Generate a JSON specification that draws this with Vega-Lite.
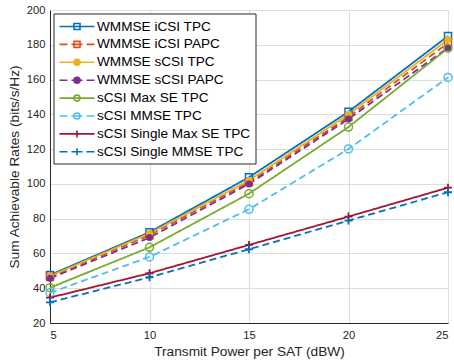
{
  "$schema": "https://vega.github.io/schema/vega-lite/v6.json",
  "width": 398,
  "height": 313,
  "autosize": "none",
  "padding": {"left": 50, "top": 10, "right": 6, "bottom": 40},
  "background": "white",
  "config": {
    "font": "Liberation Sans",
    "view": {"stroke": null},
    "axis": {
      "domainColor": "#262626",
      "domainWidth": 1,
      "gridColor": "#dedede",
      "gridWidth": 1,
      "labelColor": "#262626",
      "labelFont": "Liberation Sans",
      "labelFontSize": 11.2,
      "titleColor": "#262626",
      "titleFont": "Liberation Sans",
      "titleFontSize": 13.7,
      "titleFontWeight": "normal",
      "ticks": false
    }
  },
  "data": {
    "values": [
      {"x": 5, "y": 47.6, "s": "WMMSE iCSI TPC"},
      {"x": 10, "y": 72.2, "s": "WMMSE iCSI TPC"},
      {"x": 15, "y": 103.8, "s": "WMMSE iCSI TPC"},
      {"x": 20, "y": 141.5, "s": "WMMSE iCSI TPC"},
      {"x": 25, "y": 185.0, "s": "WMMSE iCSI TPC"},
      {"x": 5, "y": 46.5, "s": "WMMSE iCSI PAPC"},
      {"x": 10, "y": 70.5, "s": "WMMSE iCSI PAPC"},
      {"x": 15, "y": 101.0, "s": "WMMSE iCSI PAPC"},
      {"x": 20, "y": 138.5, "s": "WMMSE iCSI PAPC"},
      {"x": 25, "y": 181.0, "s": "WMMSE iCSI PAPC"},
      {"x": 5, "y": 47.0, "s": "WMMSE sCSI TPC"},
      {"x": 10, "y": 71.5, "s": "WMMSE sCSI TPC"},
      {"x": 15, "y": 102.0, "s": "WMMSE sCSI TPC"},
      {"x": 20, "y": 140.0, "s": "WMMSE sCSI TPC"},
      {"x": 25, "y": 183.0, "s": "WMMSE sCSI TPC"},
      {"x": 5, "y": 45.7, "s": "WMMSE sCSI PAPC"},
      {"x": 10, "y": 69.1, "s": "WMMSE sCSI PAPC"},
      {"x": 15, "y": 100.0, "s": "WMMSE sCSI PAPC"},
      {"x": 20, "y": 137.3, "s": "WMMSE sCSI PAPC"},
      {"x": 25, "y": 178.3, "s": "WMMSE sCSI PAPC"},
      {"x": 5, "y": 40.3, "s": "sCSI Max SE TPC"},
      {"x": 10, "y": 63.5, "s": "sCSI Max SE TPC"},
      {"x": 15, "y": 94.4, "s": "sCSI Max SE TPC"},
      {"x": 20, "y": 132.7, "s": "sCSI Max SE TPC"},
      {"x": 25, "y": 178.0, "s": "sCSI Max SE TPC"},
      {"x": 5, "y": 37.4, "s": "sCSI MMSE TPC"},
      {"x": 10, "y": 58.0, "s": "sCSI MMSE TPC"},
      {"x": 15, "y": 85.4, "s": "sCSI MMSE TPC"},
      {"x": 20, "y": 120.1, "s": "sCSI MMSE TPC"},
      {"x": 25, "y": 161.2, "s": "sCSI MMSE TPC"},
      {"x": 5, "y": 34.6, "s": "sCSI Single Max SE TPC"},
      {"x": 10, "y": 48.6, "s": "sCSI Single Max SE TPC"},
      {"x": 15, "y": 64.9, "s": "sCSI Single Max SE TPC"},
      {"x": 20, "y": 81.2, "s": "sCSI Single Max SE TPC"},
      {"x": 25, "y": 97.8, "s": "sCSI Single Max SE TPC"},
      {"x": 5, "y": 31.9, "s": "sCSI Single MMSE TPC"},
      {"x": 10, "y": 46.3, "s": "sCSI Single MMSE TPC"},
      {"x": 15, "y": 62.4, "s": "sCSI Single MMSE TPC"},
      {"x": 20, "y": 78.9, "s": "sCSI Single MMSE TPC"},
      {"x": 25, "y": 95.2, "s": "sCSI Single MMSE TPC"}
    ]
  },
  "encoding": {
    "x": {
      "field": "x", "type": "quantitative",
      "scale": {"domain": [5, 25], "nice": false, "zero": false},
      "axis": {"values": [5, 10, 15, 20, 25], "title": "Transmit Power per SAT (dBW)", "labelPadding": 6, "titlePadding": 4}
    },
    "y": {
      "field": "y", "type": "quantitative",
      "scale": {"domain": [20, 200], "nice": false, "zero": false},
      "axis": {"values": [20, 40, 60, 80, 100, 120, 140, 160, 180, 200], "title": "Sum Achievable Rates (bits/s/Hz)", "labelPadding": 5, "titlePadding": 5}
    }
  },
  "layer": [
    {
      "mark": {"type": "line", "strokeWidth": 1.8},
      "encoding": {
        "color": {
          "field": "s", "type": "nominal", "legend": null,
          "scale": {
            "domain": ["sCSI Single MMSE TPC", "sCSI Single Max SE TPC", "sCSI MMSE TPC", "sCSI Max SE TPC", "WMMSE sCSI PAPC", "WMMSE sCSI TPC", "WMMSE iCSI PAPC", "WMMSE iCSI TPC"],
            "range": ["#0072BD", "#A2142F", "#4DBEEE", "#77AC30", "#7E2F8E", "#EDB120", "#D95319", "#0072BD"]
          }
        },
        "strokeDash": {
          "field": "s", "type": "nominal", "legend": null,
          "scale": {
            "domain": ["sCSI Single MMSE TPC", "sCSI Single Max SE TPC", "sCSI MMSE TPC", "sCSI Max SE TPC", "WMMSE sCSI PAPC", "WMMSE sCSI TPC", "WMMSE iCSI PAPC", "WMMSE iCSI TPC"],
            "range": [[7, 4], [1, 0], [7, 4], [1, 0], [7, 4], [1, 0], [7, 4], [1, 0]]
          }
        },
        "order": {"field": "x"}
      }
    },
    {
      "transform": [{"filter": {"field": "s", "oneOf": ["WMMSE iCSI TPC", "WMMSE iCSI PAPC"]}}],
      "mark": {"type": "point", "shape": "square", "filled": false, "size": 49, "strokeWidth": 1.5, "opacity": 1},
      "encoding": {"color": {"field": "s", "type": "nominal", "legend": null}}
    },
    {
      "transform": [{"filter": {"field": "s", "oneOf": ["WMMSE sCSI TPC", "WMMSE sCSI PAPC"]}}],
      "mark": {"type": "point", "shape": "circle", "filled": true, "size": 49, "opacity": 1},
      "encoding": {"color": {"field": "s", "type": "nominal", "legend": null}}
    },
    {
      "transform": [{"filter": {"field": "s", "oneOf": ["sCSI Max SE TPC", "sCSI MMSE TPC"]}}],
      "mark": {"type": "point", "shape": "circle", "filled": false, "size": 64, "strokeWidth": 1.5, "opacity": 1},
      "encoding": {"color": {"field": "s", "type": "nominal", "legend": null}}
    },
    {
      "transform": [{"filter": {"field": "s", "oneOf": ["sCSI Single Max SE TPC", "sCSI Single MMSE TPC"]}}],
      "mark": {"type": "point", "shape": "M-1,0H1M0,-1V1", "filled": false, "size": 64, "strokeWidth": 1.8, "opacity": 1},
      "encoding": {"color": {"field": "s", "type": "nominal", "legend": null}}
    },
    {
      "mark": {"type": "point", "opacity": 0, "size": 196, "filled": true},
      "encoding": {
        "stroke": {
          "field": "s", "type": "nominal",
          "scale": {
            "domain": ["WMMSE iCSI TPC", "WMMSE iCSI PAPC", "WMMSE sCSI TPC", "WMMSE sCSI PAPC", "sCSI Max SE TPC", "sCSI MMSE TPC", "sCSI Single Max SE TPC", "sCSI Single MMSE TPC"],
            "range": ["#0072BD", "#D95319", "#EDB120", "#7E2F8E", "#77AC30", "#4DBEEE", "#A2142F", "#0072BD"]
          },
          "legend": {
            "title": null,
            "orient": "none",
            "legendX": 3.5,
            "legendY": 3.5,
            "padding": 5,
            "strokeColor": "#262626",
            "fillColor": "white",
            "symbolSize": 196,
            "symbolStrokeWidth": 1.6,
            "symbolOpacity": 1,
            "labelOffset": 22.5,
            "labelFont": "Liberation Sans",
            "labelFontSize": 13.6,
            "labelColor": "#000000",
            "rowPadding": 2.9,
            "labelLimit": 300,
            "encode": {"symbols": {"update": {"fill": {"scale": "fill", "field": "value"}, "fillOpacity": {"value": 1}, "strokeOpacity": {"value": 1}, "opacity": {"value": 1}}}}
          }
        },
        "fill": {
          "field": "s", "type": "nominal",
          "scale": {
            "domain": ["WMMSE iCSI TPC", "WMMSE iCSI PAPC", "WMMSE sCSI TPC", "WMMSE sCSI PAPC", "sCSI Max SE TPC", "sCSI MMSE TPC", "sCSI Single Max SE TPC", "sCSI Single MMSE TPC"],
            "range": ["transparent", "transparent", "#EDB120", "#7E2F8E", "transparent", "transparent", "transparent", "transparent"]
          },
          "legend": {"title": null, "encode": {"symbols": {"update": {"fill": {"scale": "fill", "field": "value"}, "fillOpacity": {"value": 1}, "strokeOpacity": {"value": 1}, "opacity": {"value": 1}}}}}
        },
        "shape": {
          "field": "s", "type": "nominal",
          "scale": {
            "domain": ["WMMSE iCSI TPC", "WMMSE iCSI PAPC", "WMMSE sCSI TPC", "WMMSE sCSI PAPC", "sCSI Max SE TPC", "sCSI MMSE TPC", "sCSI Single Max SE TPC", "sCSI Single MMSE TPC"],
            "range": [
              "M-1,0H4M1.07,-0.43H1.93V0.43H1.07Z",
              "M-1,0H0.14M0.71,0H2.29M2.86,0H4M1.07,-0.43H1.93V0.43H1.07Z",
              "M-1,0H4M1.07,0A0.43,0.43 0 1,0 1.93,0A0.43,0.43 0 1,0 1.07,0Z",
              "M-1,0H0.14M0.71,0H2.29M2.86,0H4M1.07,0A0.43,0.43 0 1,0 1.93,0A0.43,0.43 0 1,0 1.07,0Z",
              "M-1,0H4M1.07,0A0.43,0.43 0 1,0 1.93,0A0.43,0.43 0 1,0 1.07,0Z",
              "M-1,0H0.14M0.71,0H2.29M2.86,0H4M1.07,0A0.43,0.43 0 1,0 1.93,0A0.43,0.43 0 1,0 1.07,0Z",
              "M-1,0H4M1.5,-0.5V0.5",
              "M-1,0H0.14M0.71,0H2.29M2.86,0H4M1.5,-0.5V0.5"
            ]
          },
          "legend": {"title": null, "encode": {"symbols": {"update": {"fill": {"scale": "fill", "field": "value"}, "fillOpacity": {"value": 1}, "strokeOpacity": {"value": 1}, "opacity": {"value": 1}}}}}
        }
      }
    }
  ]
}
